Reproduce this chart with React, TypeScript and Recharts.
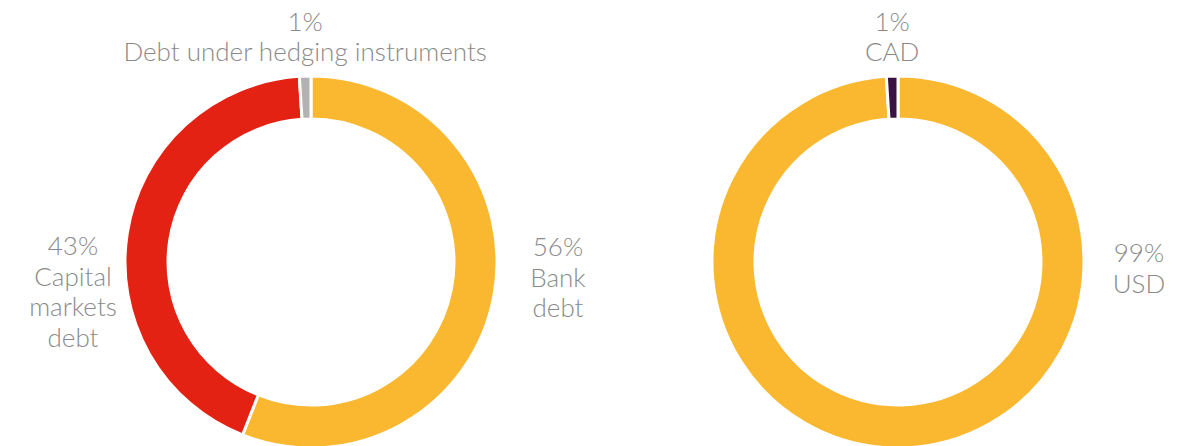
import React from 'react';
import { PieChart, Pie, Cell } from 'recharts';

// ---- data ----
const debtTypeNames = ['Bank\ndebt', 'Capital\nmarkets\ndebt', 'Debt under hedging instruments'];
const debtTypeValues = [56, 43, 1];
const currencyNames = ['USD', 'CAD'];
const currencyValues = [99, 1];

const debtTypeData = debtTypeNames.map((name, i) => ({ name, value: debtTypeValues[i] }));
const currencyData = currencyNames.map((name, i) => ({ name, value: currencyValues[i] }));

// ---- styles ----
const debtTypeColors = ['#F9B82F', '#E32213', '#B2B2B2'];
const currencyColors = ['#F9B82F', '#3A1142'];
const TEXT_COLOR = '#8A8A8A';
const FONT = 'Lato, "Open Sans", sans-serif';
const FONT_SIZE = 26;
const LINE_H = 30.5;
const RAD = Math.PI / 180;

type LabelCfg = { side: 'left' | 'right' | 'top'; gap?: number; dy?: number };

const debtTypeLabelCfg: LabelCfg[] = [
  { side: 'right', gap: 61, dy: -6 },
  { side: 'left', gap: 52, dy: -7 },
  { side: 'top' },
];
const currencyLabelCfg: LabelCfg[] = [
  { side: 'right', gap: 55, dy: 0 },
  { side: 'top' },
];

const makeLabel = (cfgs: LabelCfg[]) => (props: any) => {
  const { cx, cy, midAngle, outerRadius, index, name, value } = props;
  const cfg = cfgs[index];
  const lines = [`${value}%`, ...String(name).split('\n')];
  let x: number;
  let y0: number;
  if (cfg.side === 'top') {
    x = cx + outerRadius * Math.cos(-midAngle * RAD);
    const lastBaseline = cy - outerRadius - 15;
    y0 = lastBaseline - (lines.length - 1) * LINE_H;
  } else {
    const sign = cfg.side === 'right' ? 1 : -1;
    x = cx + sign * (outerRadius + (cfg.gap ?? 55));
    y0 = cy + (cfg.dy ?? 0);
  }
  return (
    <text
      key={`lbl-${index}`}
      x={x}
      y={y0}
      textAnchor="middle"
      fill={TEXT_COLOR}
      fontFamily={FONT}
      fontWeight={300}
      fontSize={FONT_SIZE}
    >
      {lines.map((l, i) => (
        <tspan key={i} x={x} y={y0 + i * LINE_H}>
          {l}
        </tspan>
      ))}
    </text>
  );
};

export default function App() {
  return (
    <div style={{ position: 'absolute', left: 0, top: 0, width: 1194, height: 446, background: '#fff' }}>
      <PieChart width={1194} height={446} margin={{ top: 0, right: 0, bottom: 0, left: 0 }}>
        <Pie
          data={debtTypeData}
          dataKey="value"
          nameKey="name"
          cx={311}
          cy={262}
          innerRadius={143}
          outerRadius={186}
          startAngle={90}
          endAngle={-270}
          stroke="#ffffff"
          strokeWidth={3}
          label={makeLabel(debtTypeLabelCfg)}
          labelLine={false}
          isAnimationActive={false}
        >
          {debtTypeData.map((_, i) => (
            <Cell key={i} fill={debtTypeColors[i]} />
          ))}
        </Pie>
        <Pie
          data={currencyData}
          dataKey="value"
          nameKey="name"
          cx={898}
          cy={262}
          innerRadius={143}
          outerRadius={186}
          startAngle={90}
          endAngle={-270}
          stroke="#ffffff"
          strokeWidth={3}
          label={makeLabel(currencyLabelCfg)}
          labelLine={false}
          isAnimationActive={false}
        >
          {currencyData.map((_, i) => (
            <Cell key={i} fill={currencyColors[i]} />
          ))}
        </Pie>
      </PieChart>
    </div>
  );
}
